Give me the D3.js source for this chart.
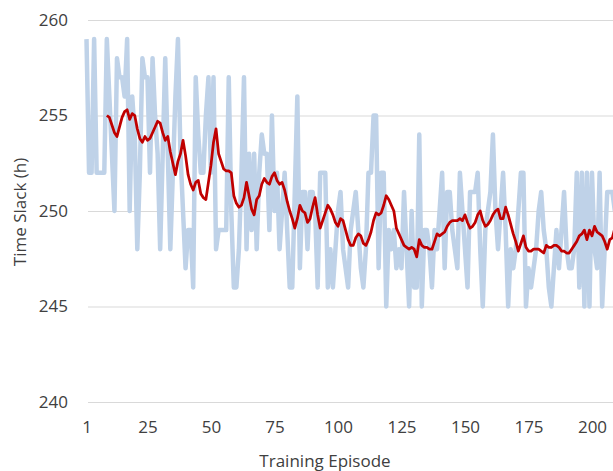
<!DOCTYPE html>
<html>
<head>
<meta charset="utf-8">
<script src="https://cdn.jsdelivr.net/npm/d3@7"></script>
<style>
  html, body { margin: 0; padding: 0; background: #fff; }
  svg { display: block; }
  text { font-family: "Open Sans", "Liberation Sans", sans-serif; fill: #404040; }
</style>
</head>
<body>
<svg id="chart" width="613" height="471"></svg>
<script>
// ---- data ----
const xTickValues = [1, 25, 50, 75, 100, 125, 150, 175, 200];
const yTickValues = [240, 245, 250, 255, 260];
const xTitle = "Training Episode";
const yTitle = "Time Slack (h)";

// raw time slack per training episode (episode 1 .. 209)
const slackRaw = [
  259,252,252,259,252,252,252,252,259,256,
  253,250,258,257,257,256,259,250,256,254,
  248,252,258,257,257,252,258,255,253,248,
  253,258,253,248,252,256,259,253,250,247,
  249,249,246,257,254,252,252,255,257,252,
  257,248,249,249,249,249,257,250,246,246,
  248,252,257,248,253,249,253,248,252,254,
  253,253,249,255,250,252,248,250,252,249,
  246,246,251,256,247,251,251,248,251,251,
  250,246,252,252,252,246,248,246,248,250,
  251,248,247,246,249,250,251,249,247,246,
  248,252,252,255,255,247,252,252,245,249,
  248,249,247,248,247,251,248,245,250,246,
  246,254,245,249,249,248,246,249,248,250,
  252,247,251,251,249,248,247,252,250,248,
  246,251,251,251,252,248,245,249,250,251,
  254,250,248,250,252,249,245,248,247,248,
  250,252,252,245,247,246,247,248,250,251,
  249,248,246,245,247,249,247,249,251,248,
  247,247,248,252,246,252,245,252,245,252,
  248,247,252,245,248,251,251,251,250
];

// moving-average trend (episode 9 .. 209)
const trendStart = 9;
const slackTrend = [
  255.0,
  254.9,254.5,254.1,253.9,254.4,254.9,255.2,255.3,254.8,255.1,
  255.0,254.3,253.8,253.6,253.9,253.7,253.8,254.1,254.4,254.7,
  254.6,254.1,253.7,253.9,253.1,252.5,251.9,252.6,253.0,253.7,
  252.9,251.9,251.4,251.1,251.5,251.6,250.9,250.7,250.6,251.5,
  252.4,253.6,254.3,253.0,252.6,252.2,252.1,252.1,252.0,250.8,
  250.4,250.2,250.3,250.7,251.5,250.8,250.1,249.8,250.6,250.8,
  251.4,251.7,251.5,251.4,251.8,252.0,251.6,251.4,251.5,251.1,
  250.5,250.0,249.6,249.1,249.6,250.3,250.0,249.9,249.4,249.6,
  250.2,250.7,249.8,249.1,249.5,249.9,250.3,250.1,249.8,249.4,
  249.2,249.6,249.5,249.0,248.5,248.2,248.2,248.6,248.8,248.7,
  248.3,248.2,248.5,248.9,249.5,249.9,249.8,249.9,250.3,250.8,
  250.6,250.3,250.0,249.1,248.8,248.5,248.2,248.1,248.0,248.1,
  248.0,247.6,248.5,248.2,248.1,248.1,248.0,248.0,248.4,248.8,
  248.7,248.8,248.9,249.2,249.4,249.5,249.5,249.5,249.6,249.5,
  249.8,249.4,249.1,249.2,249.4,249.8,250.0,249.5,249.2,249.3,
  249.5,249.8,250.0,250.1,249.6,249.6,250.2,249.8,249.3,248.8,
  248.4,247.9,248.3,248.7,248.1,247.9,247.9,248.0,248.0,248.0,
  247.9,247.8,248.2,248.1,248.1,248.2,248.2,248.1,247.9,247.9,
  247.8,247.8,248.0,248.2,248.4,248.7,248.8,249.0,248.5,249.0,
  248.7,249.2,248.9,248.8,248.7,248.4,248.0,248.5,248.6,249.1
];

// ---- chart ----
const W = 613, H = 471;
const svg = d3.select("#chart");

const x = d3.scaleLinear().domain([1, 200]).range([86.5, 592]);
const y = d3.scaleLinear().domain([240, 260]).range([402, 20]);

// horizontal gridlines + y labels
const yAxis = svg.append("g")
  .attr("transform", `translate(${x(1) + 1.5},0)`)
  .call(d3.axisLeft(y).tickValues(yTickValues).tickSize(-(W - x(1))).tickPadding(20));
yAxis.select(".domain").remove();
yAxis.selectAll(".tick line").attr("stroke", "#d9d9d9").attr("stroke-width", 1.2);
yAxis.selectAll(".tick text").style("font-size", "17px").attr("fill", "#404040")
  .style("font-family", '"Open Sans", sans-serif');

// x labels
const xAxis = svg.append("g")
  .attr("transform", `translate(0,${y(240)})`)
  .call(d3.axisBottom(x).tickValues(xTickValues).tickSize(0).tickPadding(19).tickFormat(d3.format("d")));
xAxis.select(".domain").remove();
xAxis.selectAll(".tick text").style("font-size", "17px").attr("fill", "#404040")
  .style("font-family", '"Open Sans", sans-serif');

// raw line
const rawLine = d3.line()
  .x((d, i) => x(i + 1))
  .y(d => y(d));
svg.append("path")
  .datum(slackRaw)
  .attr("d", rawLine)
  .attr("fill", "none")
  .attr("stroke", "#bfd2e8")
  .attr("stroke-width", 4.5)
  .attr("stroke-linejoin", "round");

// trend line
const trendLine = d3.line()
  .x((d, i) => x(i + trendStart))
  .y(d => y(d));
svg.append("path")
  .datum(slackTrend)
  .attr("d", trendLine)
  .attr("fill", "none")
  .attr("stroke", "#c00000")
  .attr("stroke-width", 2.75)
  .attr("stroke-linejoin", "round");

// axis titles
svg.append("text")
  .attr("x", 325).attr("y", 467)
  .attr("text-anchor", "middle")
  .style("font-size", "17px")
  .text(xTitle);

svg.append("text")
  .attr("transform", "translate(26,212) rotate(-90)")
  .attr("text-anchor", "middle")
  .style("font-size", "17px")
  .text(yTitle);
</script>
</body>
</html>
